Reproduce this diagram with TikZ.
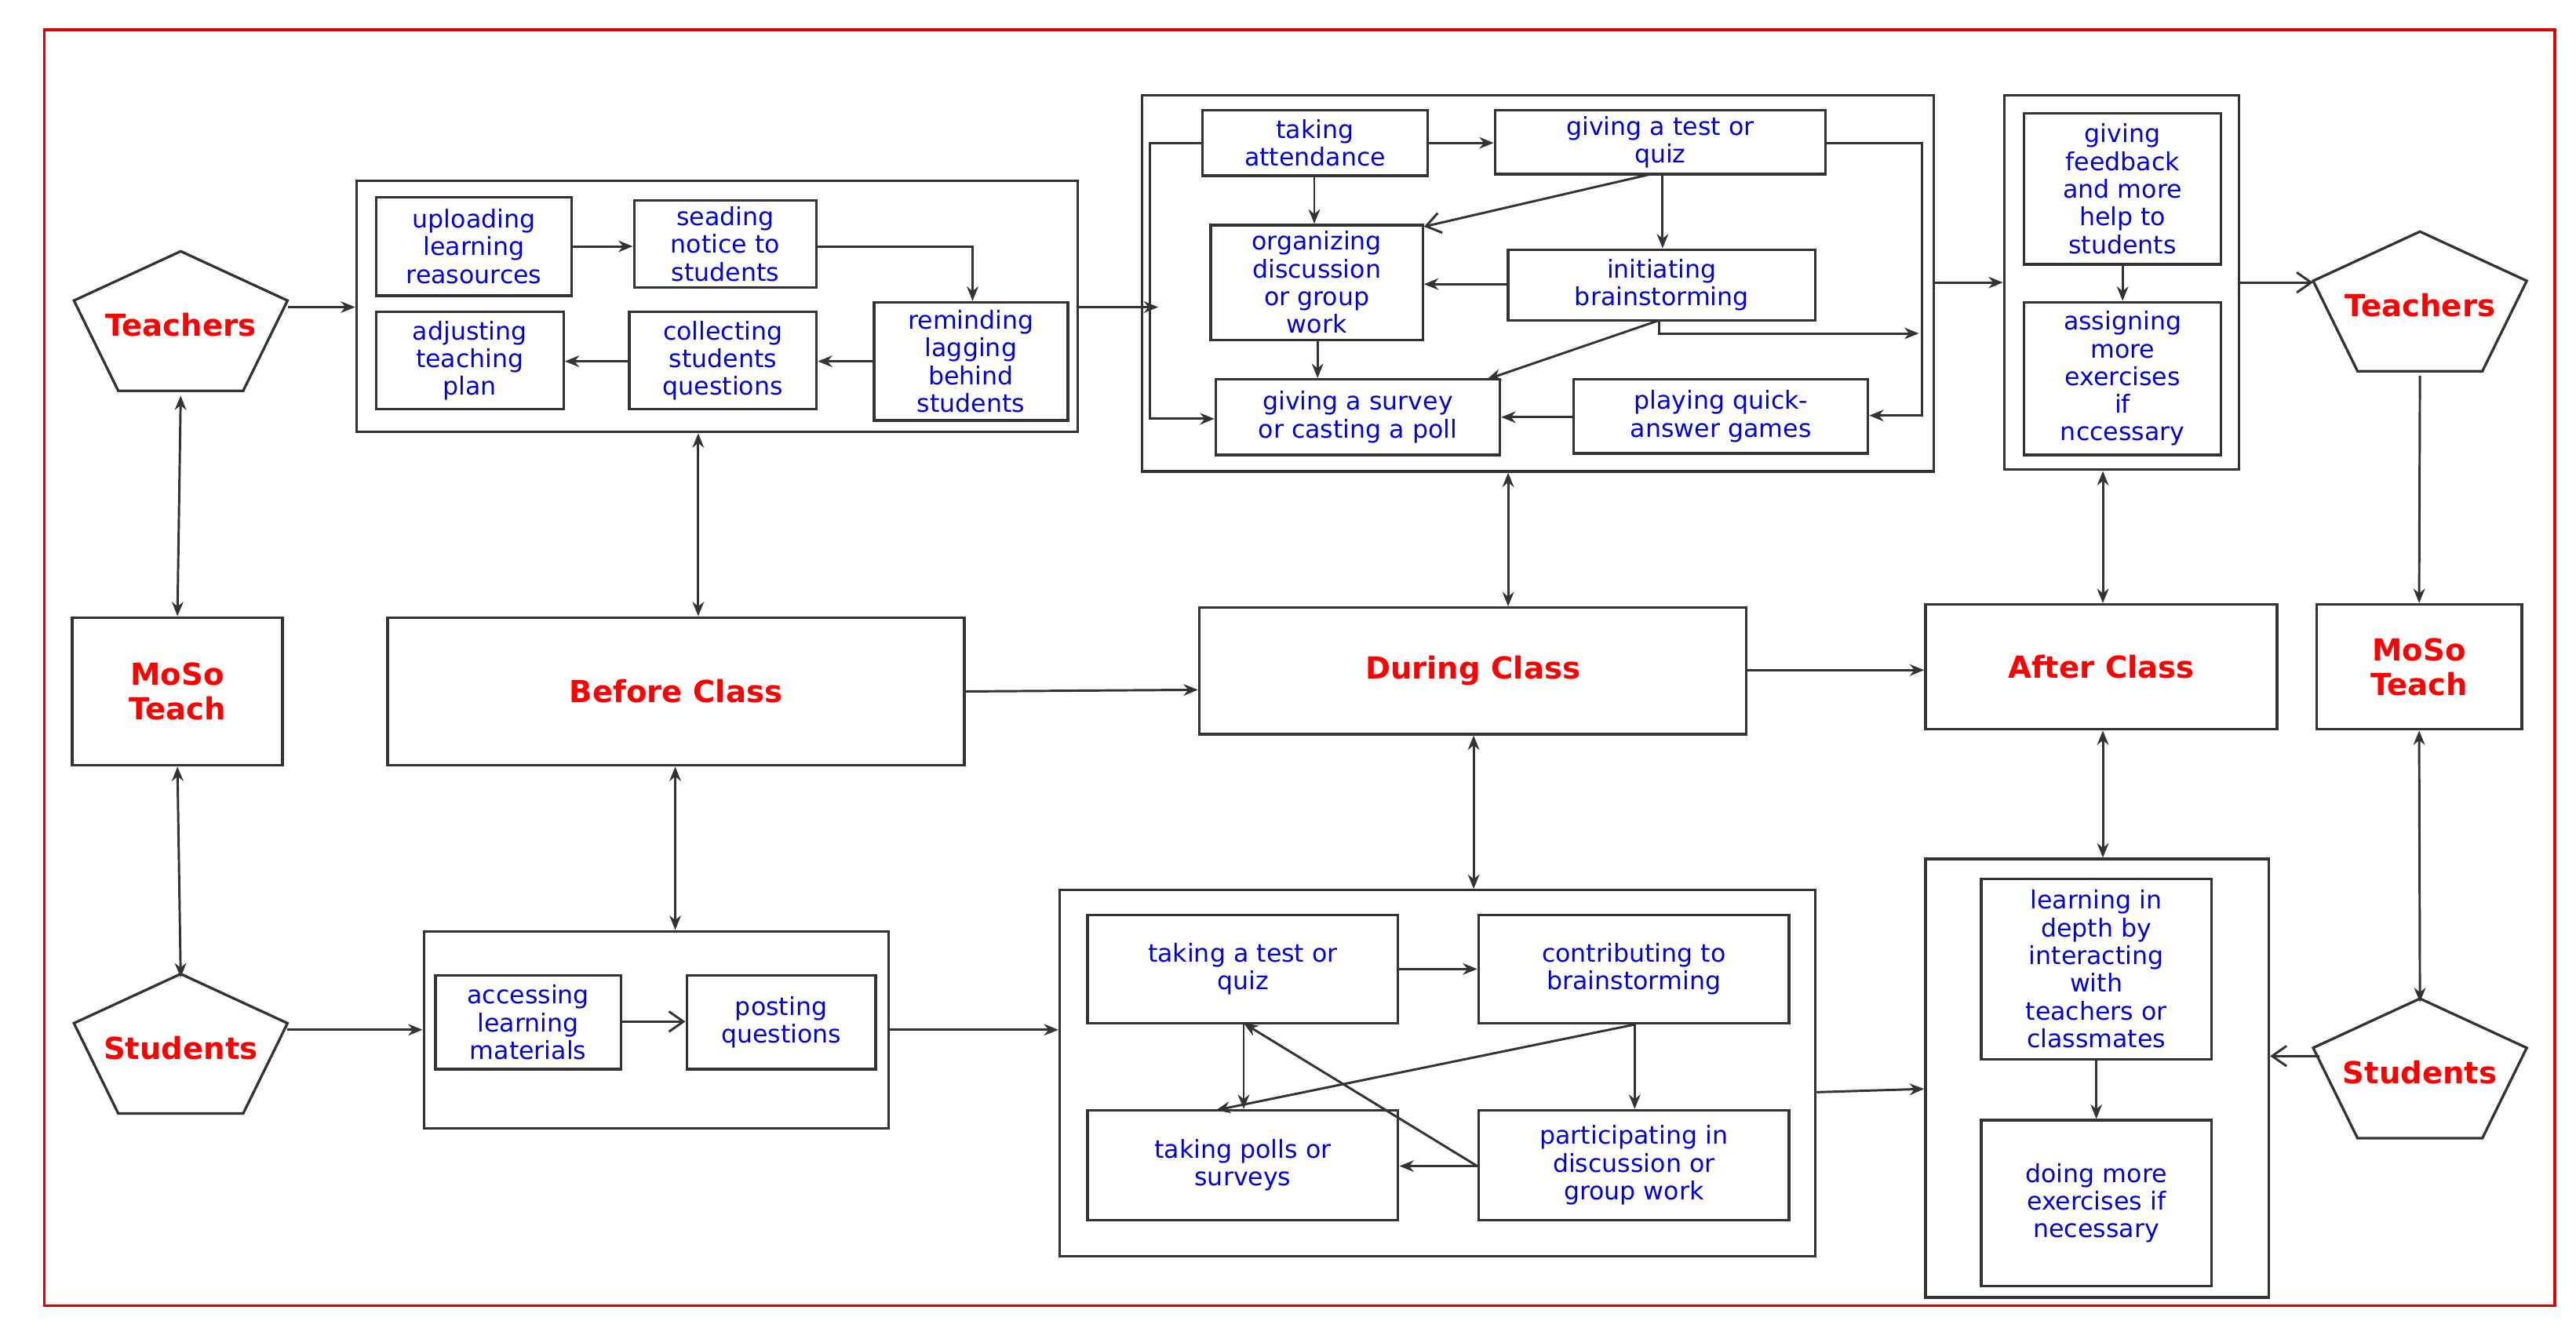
\documentclass[tikz,border=0pt]{standalone}
\usepackage{fontspec}
\setmainfont{DejaVu Sans}
\usetikzlibrary{arrows.meta}
\begin{document}
\begin{tikzpicture}[x=0.02cm,y=-0.02cm,
  box/.style={draw=black!80,line width=0.9pt,inner sep=1pt,align=center,text=blue!85!black,font=\fontsize{8.6}{9.6}\selectfont},
  big/.style={draw=black!80,line width=0.9pt,align=center,text=red,font=\bfseries\fontsize{10.5}{12}\selectfont},
  grp/.style={draw=black!80,line width=0.9pt},
  ar/.style={-{Stealth[length=5pt,width=4pt]},line width=0.8pt,draw=black!80},
  oar/.style={-{Straight Barb[length=5pt,width=7pt]},line width=0.8pt,draw=black!80},
  dar/.style={{Stealth[length=5pt,width=4pt]}-{Stealth[length=5pt,width=4pt]},line width=0.8pt,draw=black!80}]
\useasboundingbox (0,0) rectangle (1568,815);
\draw[red!85!black,line width=1pt] (27,18) rectangle (1555,795);
\newcommand\bx[7][box]{\node[#1,minimum width={(#5-#3)*0.02cm},minimum height={(#6-#4)*0.02cm}] (#2) at ({(#3+#5)/2},{(#4+#6)/2}) {#7};}
\newcommand\gp[5]{\node[grp,inner sep=0pt,minimum width={(#4-#2)*0.02cm},minimum height={(#5-#3)*0.02cm}] (#1) at ({(#2+#4)/2},{(#3+#5)/2}) {};}
\newcommand\pent[4]{\draw[black!80,line width=0.9pt] (#2,#3-45)--(#2+65,#3-15)--(#2+38,#3+40)--(#2-38,#3+40)--(#2-65,#3-15)--cycle;
 \node[inner sep=0pt,minimum width=2.6cm,minimum height=1.7cm,text=red,font=\bfseries\fontsize{10.5}{12}\selectfont] (#1) at (#2,#3) {#4};}
% pentagons and MoSo
\pent{tL}{110}{198}{Teachers}
\pent{sL}{110}{638}{Students}
\pent{tR}{1473}{186}{Teachers}
\pent{sR}{1473}{653}{Students}
\bx[big]{mL}{44}{376}{172}{466}{MoSo\\Teach}
\bx[big]{mR}{1410}{368}{1535}{444}{MoSo\\Teach}
\bx[big]{bc}{236}{376}{587}{466}{Before Class}
\bx[big]{dc}{730}{370}{1063}{447}{During Class}
\bx[big]{ac}{1172}{368}{1386}{444}{After Class}
% groups
\gp{g1}{217}{110}{656}{263}
\gp{g2}{695}{58}{1177}{287}
\gp{g3}{1220}{58}{1363}{286}
\gp{g4}{258}{567}{541}{687}
\gp{g5}{645}{542}{1105}{765}
\gp{g6}{1172}{523}{1381}{790}
% before top
\bx{up}{229}{120}{348}{180}{uploading\\learning\\reasources}
\bx{sn}{386}{122}{497}{175}{seading\\notice to\\students}
\bx{rm}{532}{184}{650}{256}{reminding\\lagging\\behind\\students}
\bx{co}{383}{190}{497}{249}{collecting\\students\\questions}
\bx{ad}{229}{190}{343}{249}{adjusting\\teaching\\plan}
% during top
\bx{at}{732}{67}{869}{107}{taking\\attendance}
\bx{gt}{910}{67}{1111}{106}{giving a test or\\quiz}
\bx{og}{737}{137}{866}{207}{organizing\\discussion\\or group\\work}
\bx{ib}{918}{152}{1105}{195}{initiating\\brainstorming}
\bx{gs}{740}{231}{913}{277}{giving a survey\\or casting a poll}
\bx{pq}{958}{231}{1137}{276}{playing quick-\\answer games}
% after top
\bx{gf}{1232}{69}{1352}{161}{giving\\feedback\\and more\\help to\\students}
\bx{am}{1232}{184}{1352}{277}{assigning\\more\\exercises\\if\\nccessary}
% bottom
\bx{ac2}{265}{594}{378}{651}{accessing\\learning\\materials}
\bx{pq2}{418}{594}{533}{651}{posting\\questions}
\bx{tq}{662}{557}{851}{623}{taking a test or\\quiz}
\bx{cb}{900}{557}{1089}{623}{contributing to\\brainstorming}
\bx{tp}{662}{676}{851}{743}{taking polls or\\surveys}
\bx{pd}{900}{676}{1089}{743}{participating in\\discussion or\\group work}
\bx{ld}{1206}{535}{1346}{645}{learning in\\depth by\\interacting\\with\\teachers or\\classmates}
\bx{dm}{1206}{682}{1346}{783}{doing more\\exercises if\\necessary}
% main connectors
\draw[ar] (tL.east|-0,187) -- (g1.west|-0,187);
\draw[dar] (tL.south) -- (mL.north);
\draw[dar] (mL.south) -- (sL.north);
\draw[ar] (175,627) -- (g4.west|-0,627);
\draw[dar] (g1.south-|425,0) -- (bc.north-|425,0);
\draw[dar] (bc.south-|411,0) -- (g4.north-|411,0);
\draw[ar] (bc.east|-0,421) -- (dc.west|-0,420);
\draw[ar] (dc.east|-0,408) -- (ac.west|-0,408);
\draw[dar] (g2.south-|918,0) -- (dc.north-|918,0);
\draw[dar] (dc.south-|897,0) -- (g5.north-|897,0);
\draw[dar] (g3.south-|1280,0) -- (ac.north-|1280,0);
\draw[dar] (ac.south-|1280,0) -- (g6.north-|1280,0);
\draw[ar] (g1.east|-0,187) -- (705,187);
\draw[ar] (g2.east|-0,172) -- (g3.west|-0,172);
\draw[oar] (g3.east|-0,172) -- (1408,172);
\draw[ar] (tR.south) -- (mR.north);
\draw[dar] (mR.south) -- (sR.north);
\draw[oar] (1412,643) -- (g6.east|-0,643);
\draw[ar] (g4.east|-0,627) -- (g5.west|-0,627);
\draw[ar] (g5.east|-0,665) -- (g6.west|-0,663);
% before inner
\draw[ar] (up.east|-0,150) -- (sn.west|-0,150);
\draw[ar] (sn.east|-0,150) -| (rm.north-|592,0);
\draw[ar] (rm.west|-0,220) -- (co.east|-0,220);
\draw[ar] (co.west|-0,220) -- (ad.east|-0,220);
% during inner
\draw[ar] (at.east|-0,87) -- (gt.west|-0,87);
\draw[ar] (at.west|-0,87) -- (700,87) -- (700,255) -- (gs.west|-0,255);
\draw[ar] (at.south-|800,0) -- (og.north-|800,0);
\draw[ar] (gt.south-|1012,0) -- (ib.north-|1012,0);
\draw[oar] (1005,106) -- (og.east|-0,138);
\draw[ar] (ib.west|-0,173) -- (og.east|-0,173);
\draw[ar] (og.south-|802,0) -- (gs.north-|802,0);
\draw[ar] (1010,195) -- (905,231);
\draw[ar] (1010,195) -- (1010,203) -- (1168,203);
\draw[ar] (gt.east|-0,87) -- (1170,87) -- (1170,253) -- (pq.east|-0,253);
\draw[ar] (pq.west|-0,254) -- (gs.east|-0,254);
\draw[ar] (gf.south-|1292,0) -- (am.north-|1292,0);
% bottom inner
\draw[oar] (ac2.east|-0,622) -- (pq2.west|-0,622);
\draw[ar] (tq.east|-0,590) -- (cb.west|-0,590);
\draw[ar] (cb.south-|995,0) -- (pd.north-|995,0);
\draw[ar] (cb.south-|995,0) -- (740,676);
\draw[ar] (tq.south-|757,0) -- (tp.north-|757,0);
\draw[ar] (pd.west|-0,710) -- (757,623);
\draw[ar] (pd.west|-0,710) -- (tp.east|-0,710);
\draw[ar] (ld.south-|1276,0) -- (dm.north-|1276,0);
\end{tikzpicture}
\end{document}
